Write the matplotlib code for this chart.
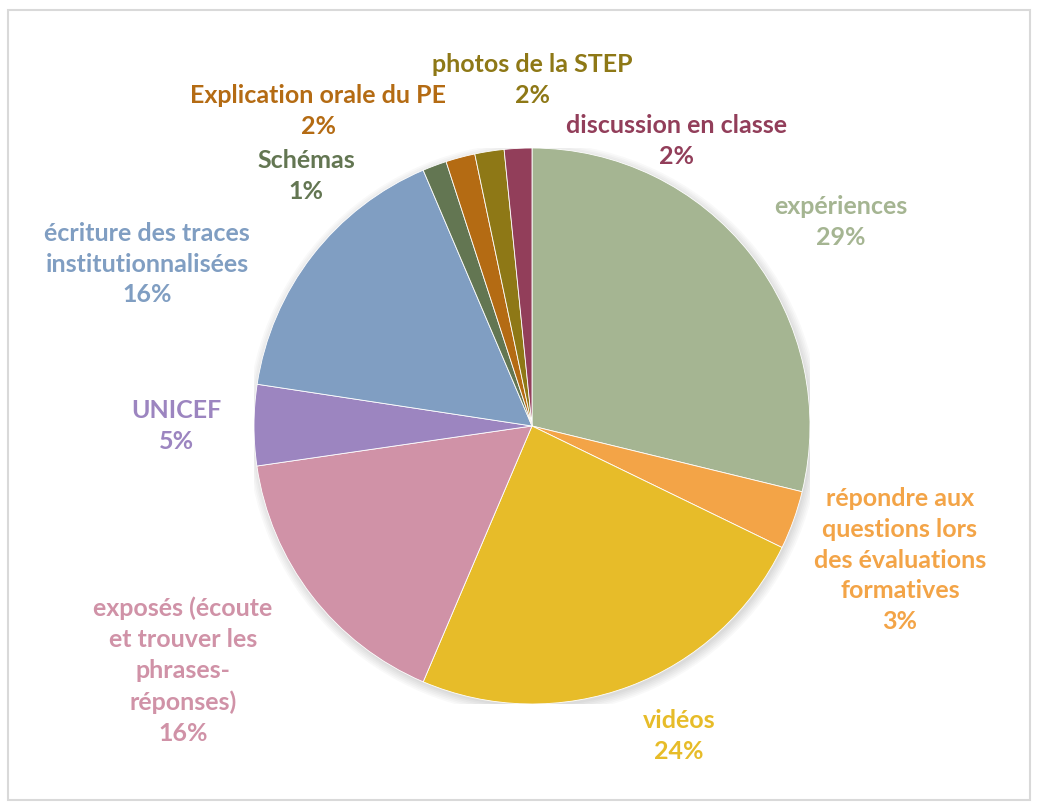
import matplotlib
matplotlib.use('Agg')
import matplotlib.pyplot as plt
from matplotlib.patches import Rectangle, Circle

# data (percent of answers)
labels = ['expériences',
          'répondre aux\nquestions lors\ndes évaluations\nformatives',
          'vidéos',
          'exposés (écoute\net trouver les\nphrases-\nréponses)',
          'UNICEF',
          'écriture des traces\ninstitutionnalisées',
          'Schémas',
          'Explication orale du PE',
          'photos de la STEP',
          'discussion en classe']
values = [28.8, 3.4, 24.2, 16.3, 4.7, 16.2, 1.4, 1.7, 1.7, 1.6]
colors = ['#A5B592', '#F3A447', '#E7BC29', '#D092A7', '#9C85C0',
          '#809EC2', '#637652', '#B46B13', '#8E7816', '#923E5A']

# label centres in pixels of the reference image
label_px = [(841, 222), (900, 560), (679, 736), (183, 671), (176, 426),
            (147, 264), (306, 176), (318, 111), (532, 80), (676, 141)]

W, H = 1037, 807
cx, cy, r = 532, 426, 278

plt.rcParams['font.family'] = ['Lato', 'DejaVu Sans']
fig = plt.figure(figsize=(W / 100, H / 100), dpi=100)
fig.patches.append(Rectangle((8 / W, 7 / H), 1022 / W, 790 / H, transform=fig.transFigure,
                             fill=False, edgecolor='#D9D9D9', linewidth=1.5))

ax = fig.add_axes([(cx - r) / W, (H - cy - r) / H, 2 * r / W, 2 * r / H])
ax.set_xlim(-1, 1)
ax.set_ylim(-1, 1)
ax.set_aspect('equal')
ax.axis('off')

# soft shadow
for i in range(6):
    ax.add_patch(Circle((0.006, -0.01), 1.0 + 0.006 * i, color='black', alpha=0.025, zorder=0, lw=0))

ax.pie(values, colors=colors, startangle=90, counterclock=False, radius=1,
       wedgeprops=dict(edgecolor='white', linewidth=0.6))
ax.set_xlim(-1, 1)
ax.set_ylim(-1, 1)

for lab, v, c, (px, py) in zip(labels, values, colors, label_px):
    ax.text((px - cx) / r, (cy - py) / r, f'{lab}\n{round(v)}%', color=c,
            fontsize=18, fontweight='bold', ha='center', va='center',
            linespacing=1.42, clip_on=False)

fig.savefig('out.png', dpi=100)
